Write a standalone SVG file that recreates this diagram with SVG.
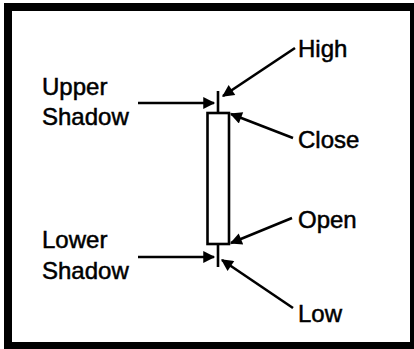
<svg xmlns="http://www.w3.org/2000/svg" width="414" height="349" viewBox="0 0 414 349">
<defs>
<style>
.lbl{font-family:"Liberation Sans",Arial,sans-serif;font-size:24px;fill:#000;stroke:#000;stroke-width:0.5}
.ln{stroke:#000;stroke-width:2.6;fill:none}
.arr{stroke:#000;stroke-width:2.6;fill:none;marker-end:url(#ah)}
</style>
<marker id="ah" viewBox="0 0 10 10" refX="9" refY="5" markerWidth="6" markerHeight="4.6" markerUnits="strokeWidth" orient="auto">
<path d="M0,0 L10,5 L0,10 z" fill="#000"/>
</marker>
</defs>
<rect x="0" y="0" width="414" height="349" fill="#fff"/>
<rect x="4" y="3" width="410" height="346" fill="#000"/>
<rect x="12" y="11" width="398" height="331" fill="#fff"/>
<g id="candle">
<line class="ln" x1="218" y1="91" x2="218" y2="113"/>
<rect class="ln" x="207.5" y="113" width="21.5" height="131" stroke-width="3"/>
<line class="ln" x1="218" y1="244" x2="218" y2="267"/>
</g>
<g id="upper-shadow"><text class="lbl" x="42" y="95">Upper</text><text class="lbl" x="42" y="125">Shadow</text></g>
<g id="lower-shadow"><text class="lbl" x="42" y="248">Lower</text><text class="lbl" x="42" y="279">Shadow</text></g>
<g id="high"><text class="lbl" x="298" y="57">High</text></g>
<g id="close"><text class="lbl" x="298" y="148">Close</text></g>
<g id="open"><text class="lbl" x="298" y="228">Open</text></g>
<g id="low"><text class="lbl" x="298" y="322">Low</text></g>
<g id="connectors">
<line class="arr" x1="138" y1="103" x2="214" y2="103"/>
<line class="arr" x1="138" y1="257" x2="214" y2="257"/>
<line class="arr" x1="295" y1="48" x2="223" y2="96"/>
<line class="arr" x1="293" y1="138" x2="231" y2="114"/>
<line class="arr" x1="292" y1="218" x2="231" y2="243"/>
<line class="arr" x1="293" y1="308" x2="222" y2="260"/>
</g>
</svg>
